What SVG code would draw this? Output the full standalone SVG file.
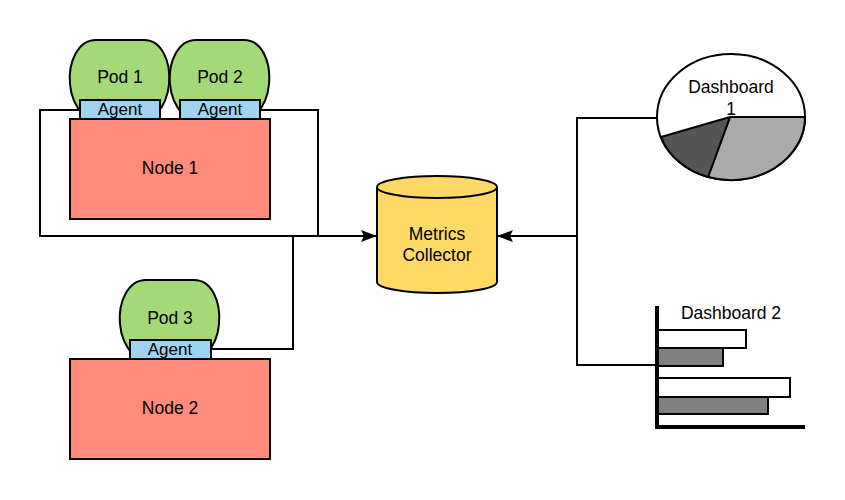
<svg xmlns="http://www.w3.org/2000/svg" width="845" height="500" viewBox="0 0 845 500">
<defs>
<style>
.t{font-family:"Liberation Sans",Arial,sans-serif;font-size:17.5px;fill:#000;text-anchor:middle}
.ta{font-family:"Liberation Sans",Arial,sans-serif;font-size:17px;fill:#000;text-anchor:middle}
.pod{fill:#a4d977;stroke:#000;stroke-width:2}
.agent{fill:#9fd3f3;stroke:#000;stroke-width:2}
.node{fill:#fe8b7c;stroke:#000;stroke-width:2}
.conn{fill:none;stroke:#000;stroke-width:2}
</style>
<marker id="ah" viewBox="0 0 16 12" refX="16" refY="6" markerWidth="16" markerHeight="12" markerUnits="userSpaceOnUse" orient="auto">
<path d="M0,0 L16,6 L0,12 L3,6 Z" fill="#000"/>
</marker>
</defs>
<rect width="845" height="500" fill="#fff"/>

<g id="connectors">
<path class="conn" d="M80,110 H40 V236 H377" marker-end="url(#ah)"/>
<path class="conn" d="M260,110 H318 V236"/>
<path class="conn" d="M211,349 H293 V236"/>
<path class="conn" d="M657,118 H577 V236 H497" marker-end="url(#ah)"/>
<path class="conn" d="M657,365 H577 V236"/>
</g>

<g id="node1">
<rect class="node" x="70" y="119" width="200" height="100"/>
<text class="t" x="170" y="174">Node 1</text>
</g>
<g id="pod1">
<path class="pod" d="M96,40 H144 C162,40 171,62 169,84 C168,98 162,108 156,115 H83 C77,108 71,98 70,84 C68,62 78,40 96,40 Z"/>
<text class="t" x="120" y="83">Pod 1</text>
</g>
<g id="agent1">
<rect class="agent" x="80" y="100" width="80" height="19"/>
<text class="ta" x="120" y="114.5">Agent</text>
</g>
<g id="pod2">
<path class="pod" d="M196,40 H244 C262,40 271,62 269,84 C268,98 262,108 256,115 H183 C177,108 171,98 170,84 C168,62 178,40 196,40 Z"/>
<text class="t" x="220" y="83">Pod 2</text>
</g>
<g id="agent2">
<rect class="agent" x="180" y="100" width="80" height="19"/>
<text class="ta" x="220" y="114.5">Agent</text>
</g>

<g id="node2">
<rect class="node" x="70" y="359" width="200" height="100"/>
<text class="t" x="170" y="414">Node 2</text>
</g>
<g id="pod3">
<path class="pod" d="M146,280 H194 C212,280 221,302 219,324 C218,338 212,348 206,355 H133 C127,348 121,338 120,324 C118,302 128,280 146,280 Z"/>
<text class="t" x="170" y="324">Pod 3</text>
</g>
<g id="agent3">
<rect class="agent" x="130" y="340" width="81" height="19"/>
<text class="ta" x="170" y="354.5">Agent</text>
</g>

<g id="collector">
<path d="M377,187 V282 A60,11 0 0 0 497,282 V187" fill="#ffd966" stroke="#000" stroke-width="2"/>
<ellipse cx="437" cy="187" rx="60" ry="11" fill="#ffd966" stroke="#000" stroke-width="2"/>
<text class="t" x="437" y="240">Metrics</text>
<text class="t" x="437" y="261">Collector</text>
</g>

<g id="dashboard1">
<ellipse cx="731" cy="117" rx="74" ry="63" fill="#fff" stroke="#000" stroke-width="2"/>
<path d="M730,117 L805,117 A74,63 0 0 1 708,177 Z" fill="#aaa" stroke="#000" stroke-width="2" stroke-linejoin="round"/>
<path d="M730,117 L708,177 A74,63 0 0 1 661,137 Z" fill="#555" stroke="#000" stroke-width="2" stroke-linejoin="round"/>
<text class="t" x="731" y="93">Dashboard</text>
<text class="t" x="731" y="115">1</text>
</g>

<g id="dashboard2">
<rect x="657" y="330" width="89" height="18" fill="#fff" stroke="#000" stroke-width="2"/>
<rect x="657" y="348" width="66" height="18" fill="#808080" stroke="#000" stroke-width="2"/>
<rect x="657" y="378" width="133" height="19" fill="#fff" stroke="#000" stroke-width="2"/>
<rect x="657" y="397" width="111" height="17" fill="#808080" stroke="#000" stroke-width="2"/>
<path d="M657,306 V427 H805" fill="none" stroke="#000" stroke-width="4"/>
<text class="t" x="731" y="319">Dashboard 2</text>
</g>
</svg>
